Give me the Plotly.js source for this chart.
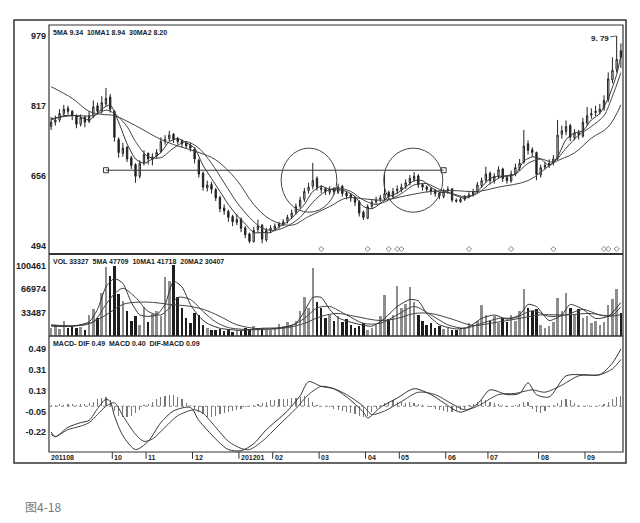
<!DOCTYPE html>
<html><head><meta charset="utf-8">
<script src="https://cdn.plot.ly/plotly-3.0.1.min.js"></script>
<style>html,body{margin:0;padding:0;background:#fff;}#chart{width:640px;height:523px;}</style>
</head><body><div id="chart"></div>
<script>
// ---- price (one bar per ~2 trading days) ----
const openP = [7.70,7.80,7.85,8.00,8.12,8.05,7.95,7.75,7.92,7.82,
7.95,8.18,8.05,8.22,8.38,8.05,7.40,7.08,7.22,6.98,
6.82,6.55,6.86,7.08,6.94,7.02,7.12,7.36,7.42,7.52,
7.42,7.36,7.32,7.26,7.18,6.92,6.62,6.28,6.36,6.24,
6.06,5.82,5.74,5.62,5.48,5.56,5.36,5.22,5.04,5.32,
5.42,5.08,5.30,5.34,5.40,5.44,5.52,5.62,5.72,5.86,
6.02,6.22,6.32,6.50,6.28,6.26,6.18,6.26,6.18,6.32,
6.16,6.12,6.06,5.96,5.72,5.58,5.86,5.96,6.02,6.04,
6.18,6.08,6.22,6.24,6.32,6.40,6.48,6.56,6.36,6.30,
6.26,6.22,6.16,6.08,6.22,6.26,6.00,5.96,6.02,6.08,
6.12,6.20,6.34,6.46,6.62,6.44,6.56,6.72,6.52,6.44,
6.60,6.74,6.88,7.30,7.16,7.10,6.58,6.76,6.80,6.86,
6.96,7.52,7.58,7.72,7.44,7.56,7.48,7.78,7.96,8.02,
8.04,8.12,8.32,8.78,9.02,9.45];
const highP = [7.92,7.95,8.10,8.20,8.18,8.08,7.98,7.98,7.95,8.05,
8.30,8.25,8.40,8.59,8.45,8.08,7.45,7.32,7.25,7.02,
6.85,6.92,7.15,7.10,7.08,7.18,7.45,7.50,7.60,7.55,
7.46,7.40,7.36,7.32,7.22,6.96,6.66,6.45,6.42,6.28,
6.10,5.90,5.78,5.66,5.68,5.60,5.40,5.25,5.38,5.55,
5.45,5.36,5.42,5.46,5.50,5.56,5.66,5.78,5.92,6.08,
6.28,6.40,6.86,6.55,6.35,6.30,6.32,6.30,6.38,6.35,
6.20,6.16,6.10,6.00,5.76,5.90,6.02,6.08,6.12,6.65,
6.22,6.28,6.34,6.38,6.48,6.58,6.65,6.60,6.40,6.34,
6.30,6.26,6.20,6.26,6.32,6.28,6.04,6.06,6.12,6.18,
6.26,6.42,6.52,6.77,6.66,6.62,6.78,6.75,6.56,6.68,
6.84,6.95,7.62,7.38,7.22,7.12,6.82,6.88,6.94,7.04,
7.85,7.72,7.84,7.76,7.64,7.62,7.90,8.15,8.12,8.18,
8.22,8.42,8.95,9.30,9.79,9.62];
const lowP = [7.62,7.72,7.80,7.95,7.98,7.85,7.66,7.70,7.68,7.78,
7.90,7.98,8.00,8.15,8.02,7.35,6.98,7.00,6.88,6.72,
6.40,6.50,6.80,6.82,6.80,6.96,7.08,7.28,7.35,7.32,
7.28,7.22,7.18,7.12,6.85,6.52,6.22,6.20,6.15,5.98,
5.72,5.66,5.50,5.40,5.42,5.26,5.12,5.00,5.02,5.25,
5.00,5.04,5.24,5.28,5.34,5.40,5.46,5.56,5.66,5.80,
5.96,6.15,6.25,6.22,6.16,6.12,6.12,6.12,6.14,6.08,
6.02,5.96,5.86,5.62,5.54,5.56,5.80,5.90,5.95,6.00,
6.02,6.04,6.14,6.18,6.26,6.34,6.42,6.28,6.22,6.18,
6.12,6.08,6.02,6.04,6.14,5.95,5.94,5.94,5.98,6.04,
6.08,6.16,6.28,6.40,6.36,6.38,6.50,6.42,6.38,6.40,
6.55,6.68,6.84,7.05,7.00,6.46,6.52,6.70,6.74,6.80,
6.92,7.42,7.50,7.36,7.38,7.40,7.44,7.72,7.88,7.94,
7.98,8.06,8.26,8.70,8.95,9.05];
const closeP = [7.80,7.85,8.00,8.10,8.05,7.95,7.75,7.90,7.80,7.95,
8.15,8.05,8.25,8.35,8.10,7.45,7.10,7.20,6.95,6.80,
6.55,6.85,7.05,6.95,7.00,7.10,7.35,7.40,7.50,7.40,
7.35,7.30,7.25,7.20,6.95,6.60,6.30,6.35,6.25,6.05,
5.80,5.75,5.60,5.50,5.55,5.35,5.20,5.05,5.30,5.40,
5.10,5.30,5.35,5.40,5.45,5.50,5.60,5.70,5.85,6.00,
6.20,6.30,6.45,6.30,6.25,6.20,6.25,6.20,6.30,6.15,
6.10,6.05,5.95,5.70,5.60,5.85,5.95,6.00,6.05,6.15,
6.10,6.20,6.25,6.30,6.40,6.50,6.55,6.35,6.30,6.25,
6.20,6.15,6.10,6.20,6.25,6.00,5.98,6.02,6.08,6.12,
6.20,6.35,6.45,6.60,6.45,6.55,6.70,6.50,6.45,6.60,
6.75,6.85,7.25,7.15,7.10,6.60,6.75,6.80,6.85,6.95,
7.50,7.60,7.70,7.45,7.55,7.50,7.80,7.95,8.00,8.05,
8.10,8.30,8.80,9.00,9.25,9.30];

// price moving averages (bar index -> value)
const ma5X = [0,3,6,9,12,14,16,18,20,22,24,26,28,30,32,34,36,38,40,42,44,46,48,50,52,54,56,58,60,62,64,66,68,70,72,74,76,78,80,82,84,86,88,90,92,94,96,98,100,102,104,106,108,110,112,114,116,118,120,122,124,126,128,130,132,134,135];
const ma5Y = [7.85,7.95,7.95,7.85,8.10,8.20,7.80,7.30,6.95,6.85,6.95,7.10,7.35,7.42,7.33,7.20,6.80,6.50,6.20,5.90,5.65,5.45,5.25,5.25,5.25,5.38,5.50,5.68,5.90,6.20,6.32,6.25,6.24,6.20,6.08,5.85,5.80,5.92,6.08,6.16,6.30,6.45,6.45,6.30,6.18,6.18,6.10,6.04,6.12,6.30,6.50,6.55,6.55,6.60,6.90,7.00,6.95,6.80,7.00,7.40,7.55,7.60,7.85,8.00,8.35,8.90,9.34];
const ma10X = [0,5,10,13,15,18,20,23,26,29,32,35,38,41,44,47,50,53,56,59,62,65,68,71,74,77,80,83,86,89,92,95,98,101,104,107,110,113,116,119,122,125,128,131,133,135];
const ma10Y = [7.88,7.95,7.95,8.08,8.00,7.70,7.35,7.00,6.98,7.20,7.35,7.20,6.85,6.40,5.95,5.60,5.35,5.30,5.40,5.60,5.95,6.20,6.28,6.20,6.00,5.90,6.00,6.15,6.35,6.38,6.25,6.15,6.08,6.15,6.38,6.55,6.60,6.85,6.95,6.88,7.20,7.50,7.70,7.95,8.40,8.94];
const ma30X = [0,5,9,12,15,20,26,30,35,39,44,48,52,57,61,66,70,75,79,84,90,95,101,106,113,119,124,128,132,135];
const ma30Y = [8.62,8.35,8.05,7.98,7.95,7.72,7.40,7.25,7.10,6.93,6.46,5.90,5.55,5.42,5.62,5.85,6.05,6.02,6.00,6.10,6.20,6.22,6.20,6.30,6.45,6.86,7.09,7.43,7.69,8.20];

// ---- volume ----
const volume = [12000,15000,10000,22000,12000,14000,11000,13000,9000,30000,
38000,25000,61000,98000,85000,100000,60000,50000,35000,22000,
28000,15000,41000,20000,32000,35000,28000,84000,78000,101000,
55000,40000,25000,18000,33000,30000,15000,12000,9000,8000,
10000,7000,9000,6000,8000,7000,11000,9000,14000,12000,
10000,8000,9000,11000,17000,14000,20000,16000,22000,35000,
56000,40000,97000,48000,40000,25000,30000,22000,28000,20000,
24000,15000,12000,14000,18000,9000,11000,16000,28000,59000,
24000,30000,71000,40000,45000,70000,48000,30000,22000,16000,
18000,12000,14000,10000,12000,9000,8000,10000,12000,18000,
15000,22000,44000,30000,22000,28000,18000,25000,20000,30000,
22000,35000,67000,40000,35000,38000,15000,12000,14000,20000,
54000,35000,61000,40000,30000,38000,25000,28000,18000,22000,
15000,20000,44000,53000,67000,33327];
const vma5X = [0,5,9,11,13,15,17,19,21,23,25,27,29,31,33,35,37,40,45,50,55,58,60,62,64,66,68,72,76,79,82,85,87,89,92,96,99,102,105,108,111,113,115,118,121,123,126,129,132,135];
const vma5Y = [14000,14000,20000,38000,70000,82000,75000,48000,30000,28000,30000,45000,78000,70000,45000,28000,18000,11000,8000,11000,12000,18000,35000,55000,55000,38000,26000,18000,14000,25000,42000,52000,50000,32000,16000,10000,13000,25000,30000,24000,30000,45000,42000,22000,30000,45000,38000,25000,28000,47709];
const vma10X = [0,5,10,13,15,17,20,23,26,28,30,33,36,39,42,47,52,57,60,63,66,70,74,78,82,86,90,94,98,102,106,110,114,118,122,126,130,133,135];
const vma10Y = [15000,14000,20000,45000,60000,68000,55000,35000,30000,40000,55000,52000,35000,20000,12000,9000,10000,15000,25000,40000,42000,30000,18000,18000,30000,42000,30000,16000,11000,18000,25000,26000,36000,28000,30000,38000,30000,30000,41718];
const vma20X = [0,8,13,17,20,24,28,32,36,40,44,50,56,60,64,68,72,78,82,86,90,95,100,104,110,116,122,128,132,135];
const vma20Y = [16000,16000,30000,45000,48000,48000,45000,43000,38000,28000,16000,10000,12000,18000,28000,32000,28000,22000,25000,32000,32000,24000,15000,18000,24000,30000,30000,32000,28000,30407];

// ---- MACD ----
const difX = [0,1,4,7,9,11,13,14,15,17,20,23,26,29,33,35,39,42,45,48,51,56,59,61,64,67,70,74,75,78,82,86,90,93,97,101,104,108,111,113,115,118,122,126,130,133,135];
const difY = [-0.22,-0.26,-0.18,-0.14,-0.12,-0.02,0.06,0.04,-0.08,-0.25,-0.37,-0.30,-0.14,-0.04,-0.01,-0.12,-0.28,-0.37,-0.38,-0.32,-0.20,-0.04,0.09,0.21,0.17,0.15,0.08,-0.05,-0.10,-0.01,0.07,0.15,0.10,0.03,-0.05,0.02,0.14,0.10,0.11,0.20,0.10,0.08,0.26,0.27,0.27,0.37,0.49];
const deaX = [0,1,4,7,9,11,13,15,17,20,22,24,27,30,34,36,39,42,45,47,50,54,58,61,64,67,70,74,76,79,83,87,91,95,98,101,106,110,114,117,121,125,130,133,135];
const deaY = [-0.24,-0.26,-0.20,-0.17,-0.14,-0.07,0.00,0.03,-0.08,-0.24,-0.30,-0.28,-0.18,-0.08,-0.03,-0.06,-0.18,-0.30,-0.36,-0.37,-0.30,-0.16,-0.02,0.10,0.17,0.15,0.10,0.00,-0.07,-0.04,0.04,0.12,0.10,0.02,-0.03,0.00,0.10,0.11,0.14,0.12,0.18,0.26,0.27,0.32,0.40];
const macdHist = [0.01,0.01,0.02,0.01,0.02,0.02,0.01,0.02,0.02,0.03,
0.04,0.06,0.07,0.08,0.05,
-0.04,-0.08,-0.09,-0.09,-0.08,-0.06,-0.03,
0.01,0.02,
0.04,0.06,0.08,0.09,0.10,0.10,0.08,0.06,0.03,
0.01,
-0.02,-0.05,-0.07,-0.09,-0.09,-0.08,-0.07,-0.06,-0.05,-0.04,-0.03,-0.02,-0.01,-0.01,
0.01,0.02,0.03,0.04,0.05,0.05,0.06,0.06,0.06,0.07,0.07,0.08,0.09,
0.07,0.04,0.01,
0.00,-0.01,
-0.01,-0.02,-0.03,-0.04,-0.05,-0.06,-0.07,-0.08,-0.09,-0.08,-0.05,
-0.02,0.01,0.03,0.04,0.05,0.04,0.04,0.03,0.04,0.03,
0.02,0.01,0.00,-0.01,-0.02,-0.03,
-0.04,-0.05,-0.05,-0.04,-0.03,-0.02,
0.01,0.02,0.04,0.05,0.05,0.04,0.03,
0.02,0.01,-0.01,0.00,0.01,
0.02,0.04,0.04,
-0.02,-0.05,-0.06,-0.04,
-0.01,0.01,
0.03,0.05,0.06,0.05,0.03,
0.01,0.00,0.01,0.00,0.00,0.01,
0.02,0.04,0.06,0.08,0.09];

// ---- annotations data ----
const monthStart = [0,15,23,34,45,53,64,75,83,94,104,116,127];
const monthLabel = ['201108','10','11','12','201201','02','03','04','05','06','07','08','09'];
const priceTicks = [4.94,6.56,8.17,9.79];
const priceTickText = ['494','656','817','979'];
const volTicks = [33487,66974,100461];
const macdTicks = [-0.22,-0.05,0.13,0.31,0.49];
const neckX = [13,93];
const neckY = [6.69,6.69];
const circleX = [[54.5,67.7],[78.8,92.8]];
const circleY = [5.72,7.20];
const signalX = [64,75,80,82,83,99,109,119,131,132,134];
const signalY = signalX.map(() => 4.87);

const ink = '#222';
const lineC = '#444';
const idx = closeP.map((_, i) => i);
const volColor = closeP.map((c, i) => c >= openP[i] ? '#8d8d8d' : '#1e1e1e');

const traces = [
  {type:'candlestick', x:idx, open:openP, high:highP, low:lowP, close:closeP, xaxis:'x', yaxis:'y',
   increasing:{line:{color:ink, width:1}, fillcolor:'#ffffff'},
   decreasing:{line:{color:ink, width:1}, fillcolor:ink}, whiskerwidth:0, hoverinfo:'skip'},
  {type:'scatter', mode:'lines', x:ma30X, y:ma30Y, line:{color:lineC, width:1, shape:'spline', smoothing:1}, yaxis:'y'},
  {type:'scatter', mode:'lines', x:ma10X, y:ma10Y, line:{color:lineC, width:1, shape:'spline', smoothing:0.8}, yaxis:'y'},
  {type:'scatter', mode:'lines', x:ma5X, y:ma5Y, line:{color:'#333', width:1, shape:'spline', smoothing:0.6}, yaxis:'y'},
  {type:'scatter', mode:'lines+markers', x:neckX, y:neckY, line:{color:'#333', width:1},
   marker:{symbol:'square-open', size:5, color:'#333', line:{width:1}}, yaxis:'y'},
  {type:'scatter', mode:'markers', x:signalX, y:signalY, marker:{symbol:'diamond-open', size:4, color:'#888', line:{width:1}}, yaxis:'y'},
  {type:'bar', x:idx, y:volume, marker:{color:volColor, line:{width:0}}, width:0.6, yaxis:'y2'},
  {type:'scatter', mode:'lines', x:vma20X, y:vma20Y, line:{color:lineC, width:1, shape:'spline', smoothing:1}, yaxis:'y2'},
  {type:'scatter', mode:'lines', x:vma10X, y:vma10Y, line:{color:lineC, width:1, shape:'spline', smoothing:0.8}, yaxis:'y2'},
  {type:'scatter', mode:'lines', x:vma5X, y:vma5Y, line:{color:'#333', width:1, shape:'spline', smoothing:0.6}, yaxis:'y2'},
  {type:'bar', x:idx, y:macdHist, marker:{color:'#777', line:{width:0}}, width:0.28, yaxis:'y3'},
  {type:'scatter', mode:'lines', x:deaX, y:deaY, line:{color:lineC, width:1, shape:'spline', smoothing:0.8}, yaxis:'y3'},
  {type:'scatter', mode:'lines', x:difX, y:difY, line:{color:'#333', width:1, shape:'spline', smoothing:0.8}, yaxis:'y3'}
];

const tickFont = {family:'Liberation Sans, Arial, sans-serif', size:9, color:ink, weight:'bold'};
const hdrFont = {family:'Liberation Sans, Arial, sans-serif', size:7, color:ink, weight:'bold'};
const yBase = {showgrid:false, zeroline:false, showline:false, ticks:'', tickfont:tickFont, fixedrange:true, ticklabelstandoff:2};

const shapes = [
  {type:'rect', xref:'paper', yref:'paper', x0:-0.061, x1:1.0052, y0:-0.0258, y1:1.0117, line:{color:'#333', width:1.5}},
  {type:'rect', xref:'paper', yref:'paper', x0:0, x1:1, y0:0, y1:1, line:{color:'#333', width:1.2}},
  {type:'line', xref:'paper', yref:'paper', x0:0, x1:1, y0:0.4637, y1:0.4637, line:{color:'#333', width:2}},
  {type:'line', xref:'paper', yref:'paper', x0:0, x1:1, y0:0.2717, y1:0.2717, line:{color:'#333', width:1.5}},
  {type:'line', xref:'paper', yref:'y3', x0:0, x1:1, y0:0, y1:0, line:{color:'#888', width:1, dash:'dot'}}
];
circleX.forEach(c => shapes.push({type:'circle', xref:'x', yref:'y', x0:c[0], x1:c[1], y0:circleY[0], y1:circleY[1], line:{color:'#444', width:1}}));
monthStart.forEach((m, k) => { if (k > 0) shapes.push({type:'line', xref:'x', yref:'paper', x0:m-0.5, x1:m-0.5, y0:0, y1:-0.016, line:{color:'#333', width:1}}); });

const annotations = [
  {xref:'paper', yref:'paper', x:0.004, y:0.996, xanchor:'left', yanchor:'top', showarrow:false, font:hdrFont,
   text:'5MA 9.34\u00a0\u00a010MA1 8.94\u00a0\u00a030MA2 8.20'},
  {xref:'paper', yref:'paper', x:0.004, y:0.460, xanchor:'left', yanchor:'top', showarrow:false, font:hdrFont,
   text:'VOL 33327\u00a0\u00a05MA 47709\u00a0\u00a010MA1 41718\u00a0\u00a020MA2 30407'},
  {xref:'paper', yref:'paper', x:0.004, y:0.268, xanchor:'left', yanchor:'top', showarrow:false, font:hdrFont,
   text:'MACD-\u00a0DIF 0.49\u00a0\u00a0MACD 0.40\u00a0\u00a0DIF-MACD 0.09'},
  {xref:'x', yref:'y', x:134, y:9.79, text:'9. 79', showarrow:true, arrowhead:0, arrowwidth:0.8, arrowcolor:'#333',
   ax:-17, ay:2, font:{family:'Liberation Sans, Arial, sans-serif', size:8, color:ink, weight:'bold'}},
  {xref:'paper', yref:'paper', x:-0.046, y:-0.1288, xanchor:'left', yanchor:'middle', showarrow:false,
   text:'图4-18', font:{family:'Noto Sans CJK SC, sans-serif', size:12, color:'#777'}}
];
monthStart.forEach((m, k) => annotations.push({xref:'x', yref:'paper', x:m-0.5, y:-0.0135, xanchor:'left', yanchor:'middle',
  showarrow:false, text:monthLabel[k], font:{family:'Liberation Sans, Arial, sans-serif', size:7, color:ink, weight:'bold'}}));

const layout = {
  width:640, height:523, margin:{l:49, r:17, t:25, b:71, pad:0},
  paper_bgcolor:'#fff', plot_bgcolor:'#fff', showlegend:false, bargap:0, hovermode:false, boxgap:0.55,
  xaxis:{range:[-0.5,135.5], showticklabels:false, showgrid:false, zeroline:false, showline:false, ticks:'',
         rangeslider:{visible:false}, fixedrange:true, anchor:'y3'},
  yaxis:Object.assign({}, yBase, {domain:[0.4637,1], range:[4.755,10.044], tickvals:priceTicks, ticktext:priceTickText}),
  yaxis2:Object.assign({}, yBase, {domain:[0.2717,0.4637], range:[0,116850], tickvals:volTicks, ticktext:volTicks.map(String)}),
  yaxis3:Object.assign({}, yBase, {domain:[0,0.2717], range:[-0.391,0.601], tickvals:macdTicks, ticktext:macdTicks.map(v => v.toFixed(2))}),
  shapes:shapes, annotations:annotations
};
Plotly.newPlot('chart', traces, layout, {staticPlot:true, displayModeBar:false});
</script></body></html>
